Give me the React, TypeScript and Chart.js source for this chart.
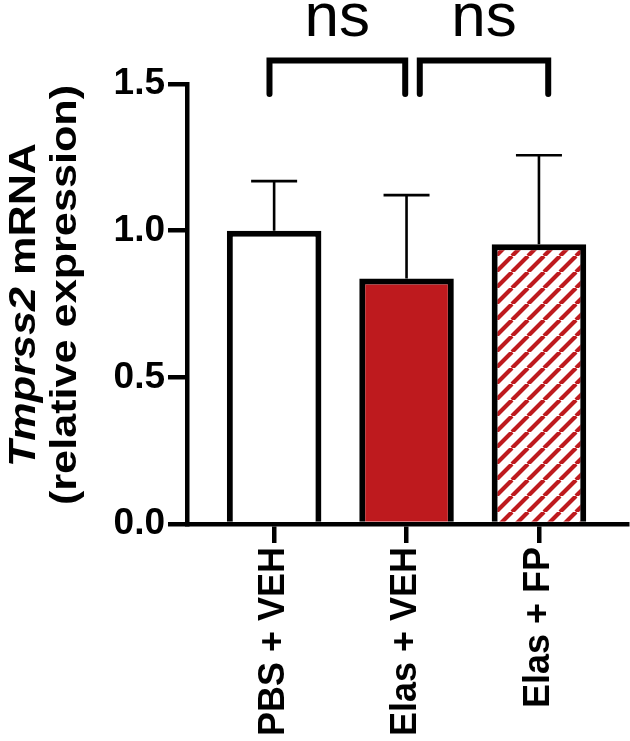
import React, { useEffect, useRef } from 'react';
import { Chart, registerables } from 'chart.js';

Chart.register(...registerables);

// ---- data ----
const categories = ['PBS + VEH', 'Elas + VEH', 'Elas + FP'];
const xPositions = [0, 1, 2];
const means = [1.0, 0.837, 0.954];
const sds = [0.169, 0.284, 0.303];
const yTicks = [0, 0.5, 1.0, 1.5];
const bracketStarts = [-0.035, 1.1];
const bracketEnds = [0.99, 2.07];
const bracketLabels = ['ns', 'ns'];
const bracketLevel = 1.58;
const bracketLegEnd = 1.466;
const bracketTextLevel = 1.664;

const RED = '#be1a1e';
const FONT = '"Liberation Sans", Arial, Helvetica, sans-serif';

function makeHatch(): CanvasPattern | string {
  const size = 16;
  const c = document.createElement('canvas');
  c.width = size;
  c.height = size;
  const g = c.getContext('2d');
  if (!g) return RED;
  g.fillStyle = '#ffffff';
  g.fillRect(0, 0, size, size);
  g.strokeStyle = RED;
  g.lineWidth = 4.2;
  g.beginPath();
  for (let k = -1; k <= 1; k++) {
    g.moveTo(k * size, size);
    g.lineTo(k * size + size, 0);
  }
  g.stroke();
  const p = g.createPattern(c, 'repeat');
  return p || RED;
}

const errorBarPlugin = {
  id: 'errorBars',
  afterDatasetsDraw(chart: any) {
    const { ctx, scales } = chart;
    const xs = scales.x;
    const ys = scales.y;
    ctx.save();
    ctx.strokeStyle = '#000';
    ctx.lineWidth = 2.6;
    ctx.lineCap = 'butt';
    for (let i = 0; i < means.length; i++) {
      const x = xs.getPixelForValue(xPositions[i]);
      const y0 = ys.getPixelForValue(means[i]);
      const y1 = ys.getPixelForValue(means[i] + sds[i]);
      ctx.beginPath();
      ctx.moveTo(x, y0);
      ctx.lineTo(x, y1);
      ctx.moveTo(x - 23, y1);
      ctx.lineTo(x + 23, y1);
      ctx.stroke();
    }
    ctx.restore();
  },
};

const bracketPlugin = {
  id: 'brackets',
  afterDraw(chart: any) {
    const { ctx, scales } = chart;
    const xs = scales.x;
    const ys = scales.y;
    const yTop = ys.getPixelForValue(bracketLevel);
    const yLeg = ys.getPixelForValue(bracketLegEnd);
    const yText = ys.getPixelForValue(bracketTextLevel);
    ctx.save();
    ctx.strokeStyle = '#000';
    ctx.fillStyle = '#000';
    ctx.lineWidth = 6;
    ctx.lineJoin = 'miter';
    ctx.lineCap = 'round';
    ctx.font = `normal 62px ${FONT}`;
    ctx.textAlign = 'center';
    ctx.textBaseline = 'alphabetic';
    for (let i = 0; i < bracketStarts.length; i++) {
      const x1 = xs.getPixelForValue(bracketStarts[i]);
      const x2 = xs.getPixelForValue(bracketEnds[i]);
      ctx.beginPath();
      ctx.moveTo(x1, yLeg);
      ctx.lineTo(x1, yTop);
      ctx.lineTo(x2, yTop);
      ctx.lineTo(x2, yLeg);
      ctx.stroke();
      ctx.fillText(bracketLabels[i], (x1 + x2) / 2, yText);
    }
    ctx.restore();
  },
};

function drawRotatedLine(
  ctx: CanvasRenderingContext2D,
  parts: { text: string; font: string }[],
  baselineX: number,
  centerY: number,
  stretch: number
) {
  ctx.save();
  ctx.translate(baselineX, centerY);
  ctx.rotate(-Math.PI / 2);
  ctx.scale(stretch, 1);
  let total = 0;
  const widths = parts.map((p) => {
    ctx.font = p.font;
    const w = ctx.measureText(p.text).width;
    total += w;
    return w;
  });
  let pos = -total / 2;
  ctx.textAlign = 'left';
  ctx.textBaseline = 'alphabetic';
  parts.forEach((p, i) => {
    ctx.font = p.font;
    ctx.fillText(p.text, pos, 0);
    pos += widths[i];
  });
  ctx.restore();
}

const yTitlePlugin = {
  id: 'yTitle',
  afterDraw(chart: any) {
    const { ctx, chartArea } = chart;
    const cy = (chartArea.top + chartArea.bottom) / 2;
    ctx.save();
    ctx.fillStyle = '#000';
    drawRotatedLine(
      ctx,
      [
        { text: 'Tmprss2', font: `italic bold 36px ${FONT}` },
        { text: ' mRNA', font: `bold 36px ${FONT}` },
      ],
      35,
      cy + 1,
      1.2
    );
    drawRotatedLine(
      ctx,
      [{ text: '(relative expression)', font: `bold 36px ${FONT}` }],
      76,
      cy - 9,
      1.2
    );
    ctx.restore();
  },
};

export default function App() {
  const canvasRef = useRef<HTMLCanvasElement | null>(null);

  useEffect(() => {
    document.body.style.margin = '0';
    const canvas = canvasRef.current;
    if (!canvas) return;
    const hatch = makeHatch();
    const axisCommon = {
      grid: {
        drawOnChartArea: false,
        drawTicks: true,
        tickLength: 19,
        color: '#000',
        lineWidth: 4.5,
        offset: false,
        z: 1,
      },
      border: { display: true, color: '#000', width: 4.5, z: 1 },
    };
    const chart = new Chart(canvas, {
      type: 'bar',
      data: {
        datasets: [
          {
            data: xPositions.map((x, i) => ({ x, y: means[i] })),
            backgroundColor: ['#ffffff', RED, hatch as any],
            borderColor: '#000',
            borderWidth: 6,
            categoryPercentage: 1,
            barPercentage: 0.714,
          },
        ],
      },
      options: {
        animation: false,
        responsive: true,
        maintainAspectRatio: false,
        layout: { padding: { top: 84, right: 3, left: 0, bottom: 0 } },
        plugins: {
          legend: { display: false },
          tooltip: { enabled: false },
        },
        scales: {
          x: {
            type: 'linear',
            offset: false,
            min: -0.658,
            max: 2.665,
            afterBuildTicks: (axis: any) => {
              axis.ticks = xPositions.map((v) => ({ value: v }));
            },
            afterFit: (axis: any) => {
              axis.height = 217;
            },
            ticks: {
              autoSkip: false,
              minRotation: 90,
              maxRotation: 90,
              padding: 4,
              color: '#000',
              font: { family: FONT, size: 36, weight: 'bold' },
              callback: (_v: any, index: number) => categories[index],
            },
            ...axisCommon,
          } as any,
          y: {
            type: 'linear',
            min: 0,
            max: 1.5,
            afterBuildTicks: (axis: any) => {
              axis.ticks = yTicks.map((v) => ({ value: v }));
            },
            afterFit: (axis: any) => {
              axis.width = 187;
            },
            ticks: {
              padding: 3,
              color: '#000',
              font: { family: FONT, size: 37, weight: 'bold' },
              callback: (v: any) => Number(v).toFixed(1),
            },
            ...axisCommon,
          } as any,
        },
      },
      plugins: [errorBarPlugin, bracketPlugin, yTitlePlugin],
    });
    return () => chart.destroy();
  }, []);

  return (
    <div style={{ width: 630, height: 741, position: 'relative' }}>
      <canvas ref={canvasRef} />
    </div>
  );
}
